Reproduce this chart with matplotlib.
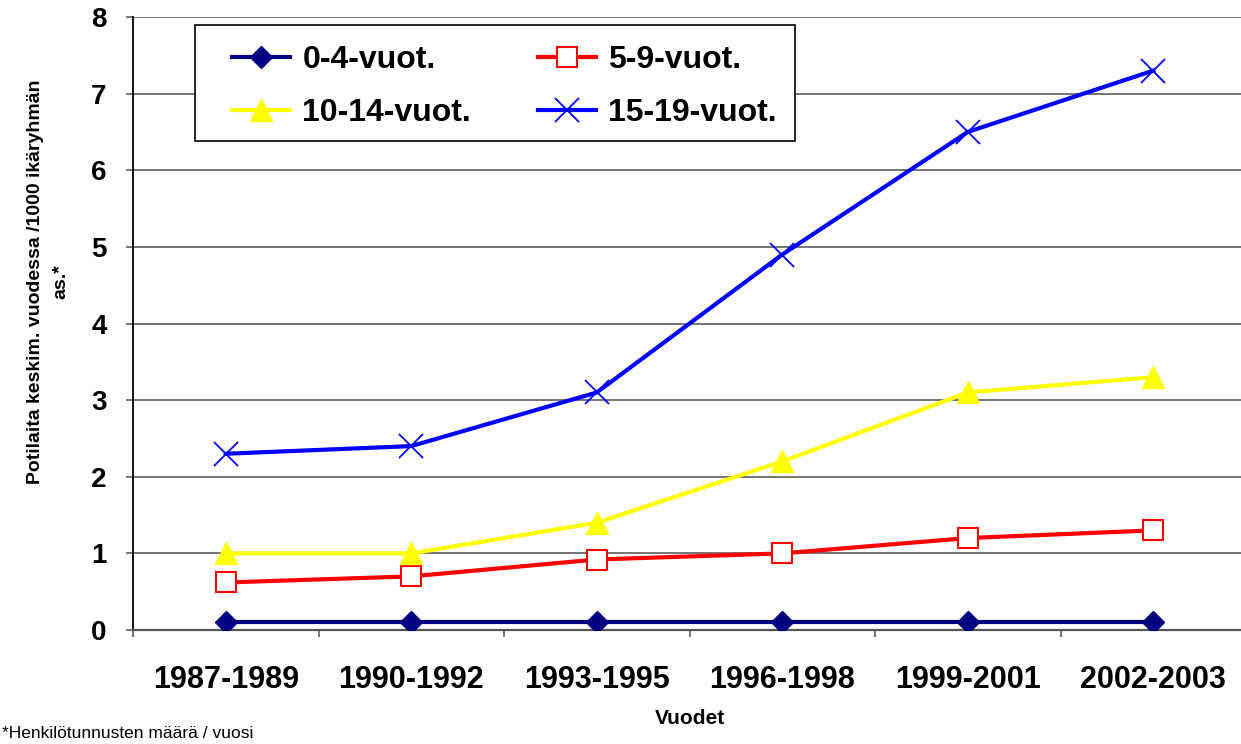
import matplotlib.pyplot as plt
import matplotlib.patches as mpatches
import numpy as np

plt.rcParams['font.family'] = ['Liberation Sans', 'DejaVu Sans']

# data
periods = ["1987-1989", "1990-1992", "1993-1995", "1996-1998", "1999-2001", "2002-2003"]
age_0_4 = [0.1, 0.1, 0.1, 0.1, 0.1, 0.1]
age_5_9 = [0.62, 0.7, 0.92, 1.0, 1.2, 1.3]
age_10_14 = [1.0, 1.0, 1.4, 2.2, 3.1, 3.3]
age_15_19 = [2.3, 2.4, 3.1, 4.9, 6.5, 7.3]

W, H = 1241, 744
fig = plt.figure(figsize=(W / 100, H / 100), dpi=100)
ax = fig.add_axes([133 / W, 114 / H, 1113 / W, 613 / H])

x = np.arange(len(periods))
l1, = ax.plot(x, age_0_4, color='#000080', lw=3, marker='D', ms=11, label='0-4-vuot.', zorder=3)
l2, = ax.plot(x, age_5_9, color='#ff0000', lw=3, marker='s', ms=14, mfc='white', mec='#ff0000',
              mew=1.5, label='5-9-vuot.', zorder=3)
l3, = ax.plot(x, age_10_14, color='#ffff00', lw=3, marker='^', ms=16, label='10-14-vuot.', zorder=3)
l4, = ax.plot(x, age_15_19, color='#0000ff', lw=3, marker='x', ms=17, mew=1.3, label='15-19-vuot.', zorder=3)

ax.set_xlim(-0.5, 5.5)
ax.set_ylim(0, 8)
ax.set_yticks(range(0, 9))
ax.set_yticklabels([str(v) for v in range(0, 9)], fontsize=20, fontweight='bold')
ax.set_xticks(x)
ax.set_xticklabels(periods, fontsize=22, fontweight='bold')
ax.set_xticks(np.arange(-0.5, 6.0, 1.0), minor=True)
ax.tick_params(axis='x', which='major', length=0, pad=25)
ax.tick_params(axis='x', which='minor', length=5, width=1.2, color='#606060', direction='out')
ax.tick_params(axis='y', length=5, width=1.2, color='#606060', direction='out', pad=14)

ax.grid(axis='y', color='#6a6a6a', lw=1.3, zorder=0)
ax.set_axisbelow(True)
for s in ['top', 'right']:
    ax.spines[s].set_visible(False)
ax.spines['left'].set_color('black')
ax.spines['left'].set_linewidth(1.3)
ax.spines['bottom'].set_color('#555555')
ax.spines['bottom'].set_linewidth(1.6)

# legend box drawn separately so it can be wider than its entries
box = mpatches.Rectangle((195 / W, 1 - 141 / H), 600 / W, 116 / H, transform=fig.transFigure,
                         facecolor='white', edgecolor='black', lw=1.2, zorder=4, clip_on=False)
ax.add_patch(box)

# row-wise order like the original legend
leg = ax.legend([l1, l3, l2, l4], [l1.get_label(), l3.get_label(), l2.get_label(), l4.get_label()],
                ncol=2, loc='upper left',
                bbox_to_anchor=(232 / W, 1 - 45 / H),
                bbox_transform=fig.transFigure, borderaxespad=0, borderpad=0,
                prop={'size': 23, 'weight': 'bold'}, frameon=False,
                handlelength=1.8, handletextpad=0.4, labelspacing=0.72,
                columnspacing=2.1)
leg.set_zorder(5)

fig.text(48 / W, 1 - 282 / H, "Potilaita keskim. vuodessa /1000 ikäryhmän\nas.*",
         rotation=90, ha='center', va='center', fontsize=14, fontweight='bold',
         multialignment='center', linespacing=1.6)
fig.text(690 / W, 1 - 719 / H, "Vuodet", ha='center', va='center', fontsize=15, fontweight='bold')
fig.text(0.002, 1 - 734 / H, "*Henkilötunnusten määrä / vuosi", ha='left', va='center', fontsize=12.5)

fig.savefig('out.png', dpi=100)
